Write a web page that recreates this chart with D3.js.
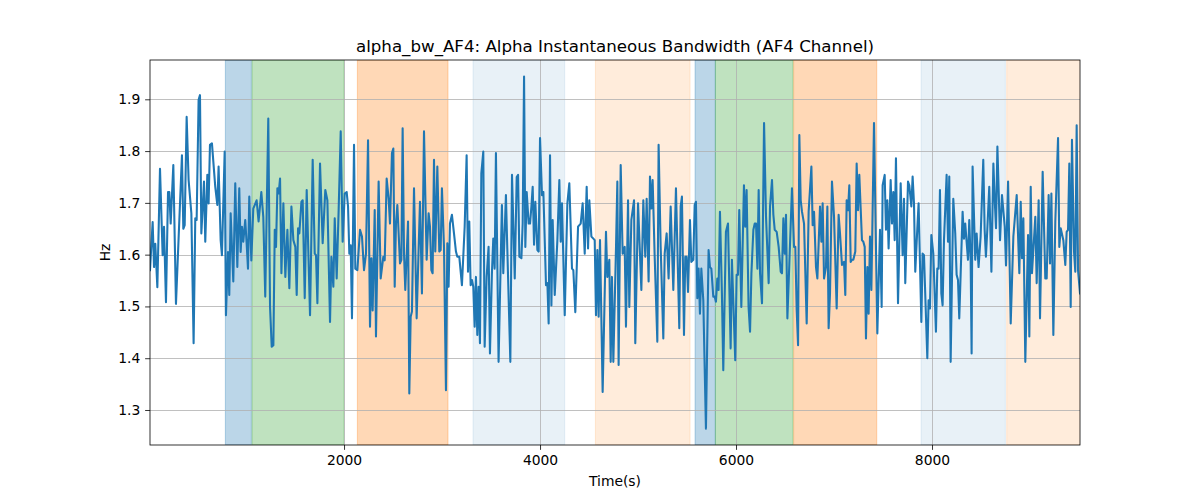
<!DOCTYPE html>
<html><head><meta charset="utf-8">
<script src="https://cdn.jsdelivr.net/npm/d3@7"></script>
<style>body{margin:0;background:#fff} svg{display:block} text{font-family:"DejaVu Sans",sans-serif;fill:#000}</style>
</head><body><svg id="c" width="1200" height="500"></svg>
<script>
const times = [20,47,61,74,95,122,149,163,183,204,217,231,258,285,346,360,374,394,414,442,465,482,496,516,530,544,571,584,605,618,632,652,686,707,720,741,754,782,795,816,829,843,870,890,911,931,945,958,972,992,1006,1020,1033,1054,1074,1108,1128,1156,1176,1196,1227,
1245,1262,1279,1293,1306,1320,1333,1347,1361,1381,1401,1422,1442,1463,1483,1503,1517,1531,1544,1565,1578,1599,1619,1653,1680,1701,1714,1728,1755,1782,1809,1830,1857,1871,1891,1905,1925,1945,1966,1986,2007,2027,2041,2054,2068,2081,2102,2115,2136,2163,2183,2204,2224,2245,2265,2279,2292,2313,2326,2353,2374,2401,2415,2435,2455,2469,
2489,2503,2517,2530,2544,2571,2585,2598,2612,2625,2653,2666,2680,2693,2714,2741,2775,2795,2816,2843,2863,2877,2891,2904,2918,2931,2952,2972,2986,2999,3020,3040,3054,3067,3081,3101,3122,3142,3156,3176,3203,3231,3251,3265,3278,3292,3305,3319,3333,3346,3360,3373,3387,3401,3421,3435,3455,3475,3489,3509,3523,3537,3550,3577,3611,3625,3652,3666,
3697,3714,3742,3762,3776,3789,3810,3823,3837,3850,3864,3884,3898,3912,3925,3939,3952,3973,3986,4000,4020,4034,4061,4075,4088,4102,4116,4129,4150,4177,4197,4211,4224,4252,4279,4299,4326,4340,4360,4388,4415,4435,4456,4476,4490,4503,4524,4544,4558,4571,4585,4598,4612,4639,4673,4687,4707,4721,4734,4748,4775,4789,4802,4823,4843,4864,4877,4898,4911,
4932,4959,4972,5000,5034,5054,5074,5088,5108,5122,5136,5149,5170,5197,5210,5231,5258,5272,5292,5312,5333,5360,5387,5421,5435,5448,5469,5482,5496,5510,5530,5544,5564,5578,5591,5605,5618,5632,5646,5666,5693,5720,5734,5748,5768,5782,5795,5809,5822,5836,5856,5870,5897,5918,5945,5958,5992,6006,6020,6033,6054,6081,6094,6108,6128,
6143,6157,6177,6191,6204,6218,6231,6245,6265,6286,6306,6333,6347,6367,6381,6395,6415,6435,6456,6469,6483,6497,6510,6524,6544,6571,6592,6605,6619,6633,6646,6660,6673,6694,6721,6741,6769,6782,6796,6816,6830,6857,6871,6884,6898,6918,6932,6945,6959,6979,7000,7027,7047,7061,7081,7102,7115,7129,7143,7156,7170,7183,7197,7217,7231,7245,7258,7272,7285,7299,7313,7326,7340,7353,
7367,7381,7408,7442,7469,7486,7496,7517,7530,7544,7557,7578,7591,7605,7619,7632,7653,7680,7700,7714,7727,7755,7768,7789,7802,7816,7829,7850,7863,7891,7904,7918,7952,7965,7979,7993,8013,8040,8054,8067,8081,8095,8108,8122,8149,8163,8176,8190,8217,8237,8251,8265,8278,8312,8326,8339,8367,8380,8394,8404,8414,8441,8455,8475,8496,8523,8537,8550,8564,8584,
8606,8626,8640,8653,8667,8680,8694,8714,8742,8755,8776,8803,8830,8864,8891,8905,8918,8932,8952,8980,8993,9007,9020,9054,9068,9088,9102,9129,9156,9170,9190,9204,9218,9238,9258,9286,9299,9313,9340,9360,9374,9388,9401,9415,9428,9449,9462,9476,9490,9510];
const values = [1.570,1.663,1.576,1.621,1.537,1.766,1.599,1.654,1.508,1.721,1.721,1.660,1.773,1.505,1.792,1.650,1.657,1.866,1.744,1.680,1.429,1.670,1.667,1.899,1.908,1.641,1.741,1.625,1.754,1.699,1.812,1.815,1.731,1.696,1.770,1.628,1.599,1.799,1.483,1.605,1.522,1.680,1.548,1.738,1.576,1.728,1.605,1.654,1.625,1.667,1.622,1.573,1.712,1.589,1.689,1.705,1.664,1.721,1.673,1.519,1.863,
1.499,1.422,1.425,1.648,1.615,1.728,1.718,1.747,1.564,1.699,1.557,1.648,1.535,1.693,1.628,1.615,1.522,1.651,1.641,1.702,1.705,1.516,1.725,1.483,1.783,1.602,1.599,1.506,1.776,1.622,1.725,1.705,1.470,1.596,1.538,1.670,1.554,1.686,1.838,1.625,1.718,1.721,1.693,1.602,1.618,1.477,1.812,1.573,1.570,1.648,1.635,1.570,1.602,1.821,1.461,1.593,1.492,1.686,1.442,1.741,1.554,1.596,1.589,1.747,1.708,1.660,
1.796,1.805,1.538,1.660,1.696,1.583,1.590,1.844,1.602,1.532,1.664,1.332,1.480,1.490,1.728,1.477,1.702,1.525,1.838,1.590,1.680,1.654,1.570,1.564,1.783,1.606,1.770,1.606,1.609,1.728,1.615,1.338,1.622,1.538,1.660,1.677,1.641,1.606,1.596,1.596,1.541,1.654,1.792,1.567,1.664,1.541,1.551,1.538,1.461,1.557,1.445,1.538,1.429,1.757,1.799,1.422,1.557,1.615,1.409,1.564,1.631,1.573,1.796,1.393,1.696,1.564,1.715,1.612,
1.393,1.754,1.554,1.750,1.754,1.596,1.593,1.660,1.944,1.615,1.721,1.660,1.660,1.693,1.731,1.619,1.702,1.609,1.606,1.825,1.715,1.721,1.541,1.545,1.467,1.792,1.502,1.667,1.522,1.628,1.744,1.625,1.699,1.483,1.699,1.738,1.573,1.570,1.489,1.654,1.660,1.699,1.602,1.731,1.612,1.705,1.635,1.631,1.628,1.483,1.609,1.480,1.628,1.335,1.644,1.557,1.590,1.393,1.557,1.393,1.612,1.741,1.387,1.773,1.602,1.615,1.461,1.705,1.499,
1.667,1.705,1.429,1.699,1.532,1.705,1.596,1.708,1.548,1.751,1.689,1.744,1.596,1.432,1.812,1.615,1.438,1.602,1.641,1.554,1.693,1.532,1.728,1.458,1.693,1.712,1.445,1.596,1.596,1.528,1.667,1.586,1.590,1.696,1.702,1.516,1.573,1.486,1.573,1.512,1.264,1.609,1.576,1.573,1.519,1.519,1.509,1.554,1.532,1.683,1.525,1.377,1.644,1.660,1.419,1.590,1.396,1.561,1.561,1.686,1.499,1.734,1.654,1.725,1.499,
1.451,1.564,1.648,1.660,1.660,1.573,1.725,1.564,1.506,1.854,1.673,1.545,1.693,1.744,1.677,1.648,1.644,1.615,1.567,1.564,1.670,1.602,1.677,1.477,1.583,1.728,1.615,1.615,1.493,1.425,1.831,1.705,1.683,1.660,1.467,1.683,1.770,1.657,1.683,1.576,1.554,1.693,1.625,1.699,1.554,1.576,1.693,1.458,1.525,1.741,1.673,1.496,1.677,1.641,1.580,1.586,1.522,1.705,1.686,1.734,1.586,1.590,1.590,1.606,1.776,1.686,1.754,1.689,1.628,1.625,1.615,1.438,1.576,1.486,
1.635,1.532,1.854,1.448,1.648,1.499,1.734,1.754,1.648,1.705,1.612,1.744,1.660,1.721,1.628,1.786,1.506,1.738,1.599,1.708,1.545,1.741,1.734,1.693,1.751,1.699,1.567,1.651,1.699,1.470,1.602,1.599,1.400,1.512,1.496,1.638,1.602,1.451,1.573,1.573,1.725,1.525,1.502,1.628,1.754,1.625,1.751,1.393,1.708,1.641,1.561,1.551,1.477,1.683,1.631,1.660,1.590,1.667,1.590,1.409,1.770,1.590,1.641,1.576,1.635,1.783,1.648,1.596,1.648,1.731,
1.567,1.776,1.705,1.651,1.809,1.725,1.628,1.715,1.654,1.579,1.741,1.467,1.635,1.715,1.564,1.702,1.593,1.670,1.393,1.638,1.442,1.731,1.564,1.673,1.545,1.705,1.477,1.760,1.554,1.554,1.715,1.583,1.718,1.445,1.664,1.825,1.615,1.651,1.628,1.580,1.644,1.648,1.776,1.499,1.822,1.606,1.567,1.850,1.570,1.525];

const spanStarts = [789,1061,2136,3316,4565,5582,5789,6588,7888,8762];
const spanEnds   = [1054,2000,3061,4252,5531,5789,6582,7436,8748,9520];
const spanColors = ["#1f77b4","#2ca02c","#ff7f0e","#1f77b4","#ff7f0e","#1f77b4","#2ca02c","#ff7f0e","#1f77b4","#ff7f0e"];
const spanAlphas = [0.3,0.3,0.3,0.1,0.15,0.3,0.3,0.3,0.1,0.15];
const xTicks = [2000,4000,6000,8000];
const yTicks = [1.3,1.4,1.5,1.6,1.7,1.8,1.9];
const titleText = "alpha_bw_AF4: Alpha Instantaneous Bandwidth (AF4 Channel)";

const L=150,R=1080,T=60,B=445;
const svg=d3.select("#c");
const x=d3.scaleLinear().domain([20,9510]).range([L,R]);
const y=d3.scaleLinear().domain([1.2324,1.9759]).range([B,T]);

svg.append("defs").append("clipPath").attr("id","clip").append("rect")
  .attr("x",L).attr("y",T).attr("width",R-L).attr("height",B-T);

const g=svg.append("g").attr("clip-path","url(#clip)");
const spans=spanStarts.map((s,i)=>({s,e:spanEnds[i],c:spanColors[i],a:spanAlphas[i]}));
g.selectAll("rect.span").data(spans).enter().append("rect")
  .attr("x",d=>x(d.s)).attr("y",T).attr("width",d=>x(d.e)-x(d.s)).attr("height",B-T)
  .attr("fill",d=>d.c).attr("fill-opacity",d=>d.a)
  .attr("stroke",d=>d.c).attr("stroke-opacity",d=>d.a).attr("stroke-width",1);

// grid
g.selectAll("line.gx").data(xTicks).enter().append("line")
  .attr("x1",d=>Math.round(x(d))+0.5).attr("x2",d=>Math.round(x(d))+0.5).attr("y1",T).attr("y2",B)
  .attr("stroke","#b0b0b0").attr("stroke-width",0.8);
g.selectAll("line.gy").data(yTicks).enter().append("line")
  .attr("y1",d=>Math.round(y(d))+0.5).attr("y2",d=>Math.round(y(d))+0.5).attr("x1",L).attr("x2",R)
  .attr("stroke","#b0b0b0").attr("stroke-width",0.8);

const pts=times.map((t,i)=>[t,values[i]]);
g.append("path").datum(pts)
  .attr("d",d3.line().x(d=>x(d[0])).y(d=>y(d[1])))
  .attr("fill","none").attr("stroke","#1f77b4").attr("stroke-width",2.08)
  .attr("stroke-linejoin","round").attr("stroke-linecap","square");

// axes
const xa=svg.append("g").attr("transform",`translate(0,${B})`)
  .call(d3.axisBottom(x).tickValues(xTicks).tickFormat(d3.format("d")).tickSizeOuter(0).tickSize(4.86).tickPadding(4.86));
const ya=svg.append("g").attr("transform",`translate(${L},0)`)
  .call(d3.axisLeft(y).tickValues(yTicks).tickFormat(d3.format(".1f")).tickSizeOuter(0).tickSize(4.86).tickPadding(4.86));
[xa,ya].forEach(a=>{
  a.select(".domain").remove();
  a.selectAll(".tick line").attr("stroke","#000").attr("stroke-width",0.8);
  a.selectAll(".tick text").attr("font-size","13.89px").attr("font-family","DejaVu Sans").attr("fill","#000");
});
svg.append("rect").attr("x",L).attr("y",T).attr("width",R-L).attr("height",B-T)
  .attr("fill","none").attr("stroke","#000").attr("stroke-width",0.8);

svg.append("text").attr("x",(L+R)/2).attr("y",51.7).attr("text-anchor","middle")
  .attr("font-size","16.67px").text(titleText);
svg.append("text").attr("x",(L+R)/2).attr("y",486).attr("text-anchor","middle")
  .attr("font-size","13.89px").text("Time(s)");
svg.append("text").attr("transform",`translate(110,${(T+B)/2}) rotate(-90)`).attr("text-anchor","middle")
  .attr("font-size","13.89px").text("Hz");
</script></body></html>
